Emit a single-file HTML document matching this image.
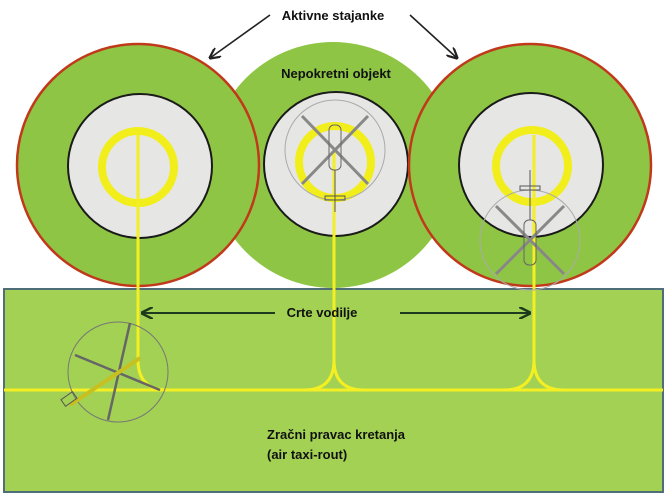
<!DOCTYPE html>
<html><head><meta charset="utf-8"><style>
html,body{margin:0;padding:0;background:#fff;}
svg{display:block;}
text{font-family:"Liberation Sans",sans-serif;font-weight:bold;font-size:13px;fill:#111;}
</style></head><body>
<svg width="668" height="497" viewBox="0 0 668 497" xmlns="http://www.w3.org/2000/svg">
<defs>
<marker id="ah" viewBox="0 0 10 10" refX="9" refY="5" markerWidth="7" markerHeight="7" orient="auto"><path d="M0,0 L10,5 L0,10" fill="none" stroke="#222" stroke-width="2"/></marker>
<marker id="ah2" viewBox="0 0 10 10" refX="9" refY="5" markerWidth="6" markerHeight="6" orient="auto"><path d="M0,0 L10,5 L0,10" fill="none" stroke="#1e3a1e" stroke-width="2"/></marker>
</defs>
<!-- middle circle -->
<circle cx="333" cy="165" r="123" fill="#8fc544"/>
<circle cx="336" cy="164" r="72" fill="#e6e6e4" stroke="#1a1a1a" stroke-width="2"/>
<!-- left -->
<circle cx="138" cy="165" r="121" fill="#8fc544" stroke="#c0391b" stroke-width="2.5"/>
<circle cx="140" cy="166" r="72" fill="#e6e6e4" stroke="#1a1a1a" stroke-width="2"/>
<!-- right -->
<circle cx="530" cy="165" r="121" fill="#8fc544" stroke="#c0391b" stroke-width="2.5"/>
<circle cx="531" cy="165" r="72" fill="#e6e6e4" stroke="#1a1a1a" stroke-width="2"/>
<!-- yellow rings -->
<g fill="none" stroke="#f2ee1c" stroke-width="8">
<circle cx="138" cy="167" r="36"/>
<circle cx="335" cy="162" r="36"/>
<circle cx="532" cy="166" r="36"/>
</g>
<!-- rectangle -->
<rect x="4" y="289" width="659" height="203" fill="#a2d153" stroke="#4f6e78" stroke-width="2"/>
<!-- yellow guide lines -->
<g fill="none" stroke="#f4ef22" stroke-width="3">
<line x1="4" y1="390" x2="663" y2="390"/>
<path d="M138,135 V360 Q138,390 168,390"/>
<path d="M334,148 V360 Q334,390 304,390 M334,360 Q334,390 364,390"/>
<path d="M534,135 V360 Q534,390 504,390 M534,360 Q534,390 564,390"/>
</g>
<!-- helicopters -->
<g stroke="#555" fill="none" stroke-width="1">
<circle cx="335" cy="150" r="50" stroke="#aaa"/>
<line x1="302" y1="116" x2="368" y2="184" stroke="#888" stroke-width="3"/>
<line x1="368" y1="116" x2="302" y2="184" stroke="#888" stroke-width="3"/>
<rect x="329" y="125" width="12" height="45" rx="5" stroke="#666"/>
<line x1="335" y1="170" x2="335" y2="212"/>
<rect x="325" y="196" width="20" height="4"/>
<circle cx="530" cy="240" r="50" stroke="#aaa"/>
<line x1="496" y1="206" x2="564" y2="274" stroke="#888" stroke-width="3"/>
<line x1="564" y1="206" x2="496" y2="274" stroke="#888" stroke-width="3"/>
<rect x="524" y="220" width="12" height="45" rx="5" stroke="#666"/>
<line x1="530" y1="220" x2="530" y2="170"/>
<rect x="520" y="186" width="20" height="4"/>
<circle cx="118" cy="372" r="50" stroke="#777"/>
<line x1="75" y1="355" x2="160" y2="390" stroke="#666" stroke-width="2.5"/>
<line x1="130" y1="323" x2="108" y2="420" stroke="#666" stroke-width="2.5"/>
<line x1="70" y1="405" x2="140" y2="358" stroke="#c8c020" stroke-width="4"/>
<rect x="62" y="395" width="14" height="8" transform="rotate(-35 69 399)"/>
</g>
<!-- arrows -->
<line x1="270" y1="15" x2="210" y2="58" stroke="#222" stroke-width="1.6" marker-end="url(#ah)"/>
<line x1="410" y1="15" x2="457" y2="58" stroke="#222" stroke-width="1.6" marker-end="url(#ah)"/>
<line x1="275" y1="313" x2="142" y2="313" stroke="#1e3a1e" stroke-width="2" marker-end="url(#ah2)"/>
<line x1="400" y1="313" x2="530" y2="313" stroke="#1e3a1e" stroke-width="2" marker-end="url(#ah2)"/>
<!-- labels -->
<text x="333" y="20" text-anchor="middle">Aktivne stajanke</text>
<text x="336" y="78" text-anchor="middle">Nepokretni objekt</text>
<text x="322" y="317" text-anchor="middle">Crte vodilje</text>
<text x="267" y="439">Zračni pravac kretanja</text>
<text x="267" y="459">(air taxi-rout)</text>
</svg>
</body></html>
